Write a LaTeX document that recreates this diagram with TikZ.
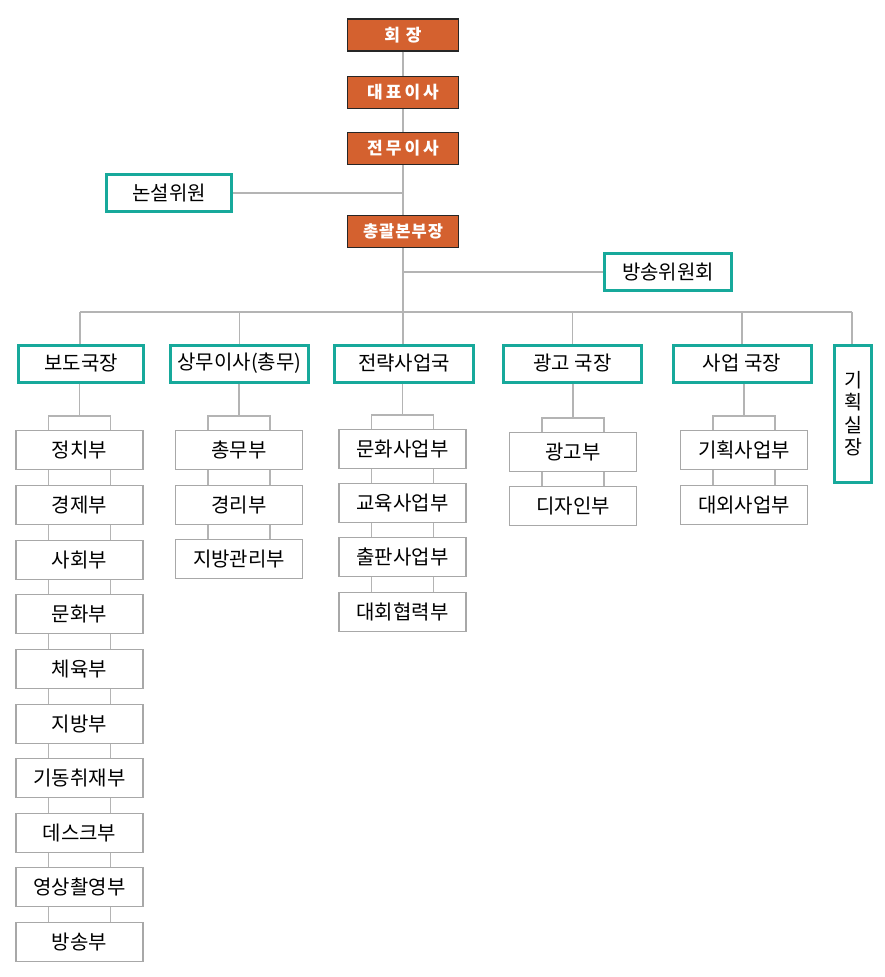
\documentclass[tikz,border=0pt]{standalone}
\usepackage{fontspec}
\setmainfont{Noto Sans CJK KR}
\definecolor{orangeC}{HTML}{D4612F}
\definecolor{tealC}{HTML}{17A99B}
\definecolor{lineC}{HTML}{B4B4B4}
\definecolor{boxC}{HTML}{A8A8A8}
\begin{document}
\begin{tikzpicture}[x=1pt,y=-1pt,
  topbox/.style={draw=black!85, line width=1.2pt, fill=orangeC, text=white,
    minimum width=111pt, minimum height=32pt, inner sep=0pt,
    font=\fontsize{17}{19}\selectfont\bfseries\addfontfeatures{LetterSpace=18}},
  keybox/.style={draw=tealC, line width=3pt, fill=white, minimum height=37pt,
    inner sep=0pt, font=\fontsize{20}{24}\selectfont},
  subbox/.style={draw=boxC, line width=1.1pt, fill=white, minimum width=127pt,
    minimum height=39pt, inner sep=0pt, font=\fontsize{20}{24}\selectfont},
  conn/.style={draw=lineC, line width=1.4pt}]
\useasboundingbox (0,0) rectangle (884,977);
% top chain
\node[topbox] (hoejang) at (403,35) {회\hspace{6pt}장};
\node[topbox] (daepyo) at (403,92.5) {대표이사};
\node[topbox] (jeonmu) at (403,148.5) {전무이사};
\node[topbox, font=\fontsize{16.5}{19}\selectfont\bfseries\addfontfeatures{LetterSpace=6}] (chonggwal) at (403,231.5) {총괄본부장};
\node[keybox, minimum width=125pt] (nonseol) at (169,193) {논설위원};
\node[keybox, minimum width=127pt] (bangsong) at (668,272) {방송위원회};
\coordinate (barL) at (80,312);
\coordinate (barR) at (852,312);
\coordinate (barC) at (403,312);
% level 2
\node[keybox, minimum width=125pt] (bodo) at (81,363.5) {보도국장};
\node[keybox, minimum width=138pt] (sangmu) at (239.5,363.5) {상무이사(총무)};
\node[keybox, minimum width=139pt] (jeonryak) at (404,363.5) {전략사업국};
\node[keybox, minimum width=138pt] (gwanggo) at (572.5,363.5) {광고 국장};
\node[keybox, minimum width=138pt] (saeop) at (742,363.5) {사업 국장};
\node[keybox, minimum width=37pt, minimum height=137pt, align=center,
  font=\fontsize{19.5}{22.5}\selectfont] (gihoek) at (853,413.5) {기\\획\\실\\장};
% column 1
\node[subbox] (c1a) at (79.5,450) {정치부};
\node[subbox] (c1b) at (79.5,505) {경제부};
\node[subbox] (c1c) at (79.5,560) {사회부};
\node[subbox] (c1d) at (79.5,614) {문화부};
\node[subbox] (c1e) at (79.5,669) {체육부};
\node[subbox] (c1f) at (79.5,724) {지방부};
\node[subbox] (c1g) at (79.5,778) {기동취재부};
\node[subbox] (c1h) at (79.5,833) {데스크부};
\node[subbox] (c1i) at (79.5,887) {영상촬영부};
\node[subbox] (c1j) at (79.5,942) {방송부};
% column 2
\node[subbox] (c2a) at (239,450) {총무부};
\node[subbox] (c2b) at (239,505) {경리부};
\node[subbox] (c2c) at (239,559) {지방관리부};
% column 3
\node[subbox] (c3a) at (402.5,449) {문화사업부};
\node[subbox] (c3b) at (402.5,503) {교육사업부};
\node[subbox] (c3c) at (402.5,557) {출판사업부};
\node[subbox] (c3d) at (402.5,612) {대회협력부};
% column 4
\node[subbox] (c4a) at (573,452) {광고부};
\node[subbox] (c4b) at (573,506) {디자인부};
% column 5
\node[subbox] (c5a) at (744,450) {기획사업부};
\node[subbox] (c5b) at (744,505) {대외사업부};
% connectors top
\draw[conn] (hoejang) -- (daepyo);
\draw[conn] (daepyo) -- (jeonmu);
\draw[conn] (jeonmu) -- (chonggwal);
\draw[conn] (nonseol.east) -- (nonseol.east -| jeonmu.south);
\draw[conn] (chonggwal.south) -- (barC);
\draw[conn] (bangsong.west) -- (bangsong.west -| chonggwal.south);
\draw[conn] (barL) -- (barR);
\draw[conn] (barL) -- (barL |- bodo.north);
\draw[conn] (sangmu.north |- barL) -- (sangmu.north);
\draw[conn] (barC) -- (jeonryak.north -| barC);
\draw[conn] (gwanggo.north |- barL) -- (gwanggo.north);
\draw[conn] (saeop.north |- barL) -- (saeop.north);
\draw[conn] (barR) -- (gihoek.north -| barR);
% brackets and sub connectors
\foreach \p/\c in {bodo/c1a, sangmu/c2a, jeonryak/c3a, gwanggo/c4a, saeop/c5a}{
  \coordinate (brk) at ([yshift=14pt]\c.north);
  \draw[conn] (\p.south -| \c.north) -- (brk);
  \draw[conn] ([xshift=-31pt]\c.north) -- ([xshift=-31pt]brk) -- ([xshift=31pt]brk) -- ([xshift=31pt]\c.north);
}
\foreach \a/\b in {c1a/c1b,c1b/c1c,c1c/c1d,c1d/c1e,c1e/c1f,c1f/c1g,c1g/c1h,c1h/c1i,c1i/c1j,
  c2a/c2b,c2b/c2c, c3a/c3b,c3b/c3c,c3c/c3d, c4a/c4b, c5a/c5b}{
  \draw[conn] ([xshift=-31pt]\a.south) -- ([xshift=-31pt]\b.north);
  \draw[conn] ([xshift=31pt]\a.south) -- ([xshift=31pt]\b.north);
}
\end{tikzpicture}
\end{document}
